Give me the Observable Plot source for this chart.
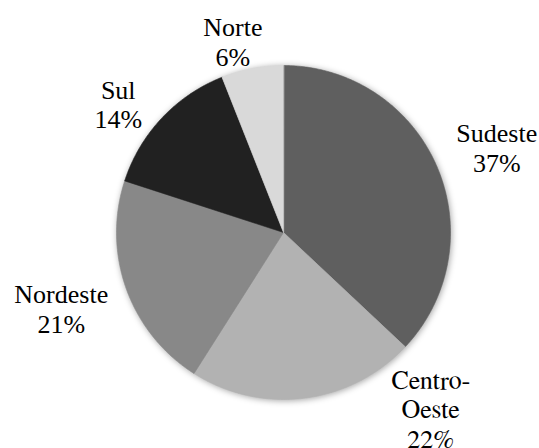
<!DOCTYPE html>
<html>
<head>
<meta charset="utf-8">
<script src="https://cdn.jsdelivr.net/npm/d3@7"></script>
<script src="https://cdn.jsdelivr.net/npm/@observablehq/plot@0.6"></script>
<style>
  html, body { margin: 0; padding: 0; background: #fff; }
</style>
</head>
<body>
<div id="chart"></div>
<script>
// ---- data ----
const regions = ["Sudeste", "Centro-Oeste", "Nordeste", "Sul", "Norte"];
const labelText = ["Sudeste", "Centro-\nOeste", "Nordeste", "Sul", "Norte"];
const shares = [37, 22, 21, 14, 6];
const colors = ["#5f5f5f", "#b2b2b2", "#888888", "#212121", "#d9d9d9"];

// ---- layout ----
const W = 539, H = 448;
const cx = 283, cy = 232, R = 167;
const labelRadius = 1.3 * R;
const labelNudge = [[14, 1], [120, -39], [-18, 2], [-7, 20], [-10, 22]];
// Times-metric serif faces (one name per label)
const labelFonts = ["Times New Roman", "FreeSerif", "Tinos", "Times", "Liberation Serif"];

const pie = d3.pie().sort(null).value(d => d)(shares);

// polygon vertices for each slice (angles from top, clockwise)
const slicePts = [];
pie.forEach((p, i) => {
  slicePts.push({name: regions[i], x: 0, y: 0});
  const n = Math.max(2, Math.ceil((p.endAngle - p.startAngle) / (Math.PI / 360)));
  for (let k = 0; k <= n; k++) {
    const a = p.startAngle + (p.endAngle - p.startAngle) * k / n;
    slicePts.push({name: regions[i], x: R * Math.sin(a), y: -R * Math.cos(a)});
  }
});

const labels = pie.map((p, i) => {
  const a = (p.startAngle + p.endAngle) / 2;
  return {
    name: regions[i],
    text: labelText[i] + "\n" + shares[i] + "%",
    x: labelRadius * Math.sin(a) + labelNudge[i][0],
    y: -labelRadius * Math.cos(a) + labelNudge[i][1]
  };
});

const chart = Plot.plot({
  width: W,
  height: H,
  margin: 0,
  x: {domain: [-cx, W - cx], range: [0, W], axis: null},
  y: {domain: [-cy, H - cy], range: [0, H], axis: null},
  color: {domain: regions, range: colors},
  style: {background: "#fff"},
  marks: [
    Plot.line(slicePts, {
      x: "x", y: "y", z: "name", fill: "name", stroke: "name",
      strokeWidth: 0.6, curve: "linear-closed"
    }),
    Plot.text(labels, {
      x: "x", y: "y", text: "text",
      fontSize: 26, lineHeight: 1.15, fill: "#000",
      textAnchor: "middle", lineAnchor: "middle"
    })
  ]
});

chart.querySelectorAll('g[aria-label="text"] text').forEach((t, i) => {
  const f = labelFonts[i % labelFonts.length];
  t.setAttribute("font-family", f);
  t.style.fontFamily = "'" + f + "'";
});

const lineG = chart.querySelector('g[aria-label="line"]');
if (lineG) lineG.style.filter = "drop-shadow(1px 1px 3px rgba(0,0,0,0.35))";

document.getElementById("chart").appendChild(chart);
</script>
</body>
</html>
